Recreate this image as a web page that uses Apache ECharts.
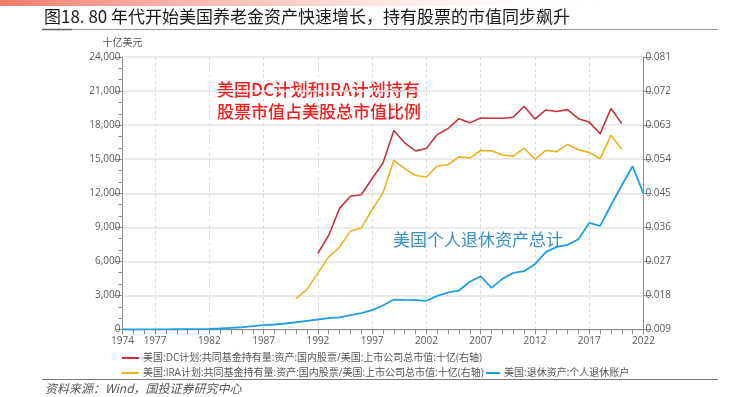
<!DOCTYPE html>
<html lang="zh">
<head>
    <meta charset="UTF-8">
    <script src="https://cdn.jsdelivr.net/npm/echarts@6/dist/echarts.min.js"></script>
    <title>养老金资产</title>
</head>
<body>
    <style>
        html, body, #main {
            margin: 0;
            width: 736px;
            height: 397px;
            background: #fff;
        }
    </style>
    <div id="main"></div>
    <script>
        // years on x axis
        var years = [];
        for (var y = 1974; y <= 2022; y++) years.push(String(y));

        // 美国:退休资产:个人退休账户, 十亿美元, 1974-2022
        var iraAssets = [
            0, 2, 5, 9, 14, 20, 26, 40, 60, 90,
            150, 200, 290, 380, 440, 530, 640, 760, 880, 1000,
            1060, 1260, 1450, 1710, 2110, 2640, 2610, 2590, 2530, 2960,
            3260, 3430, 4200, 4690, 3670, 4460, 4990, 5140, 5750, 6810,
            7280, 7450, 7950, 9390, 9130, 10940, 12700, 14380, 11970
        ];

        // DC计划持股/总市值, 1992-2020
        var dcStart = 1992;
        var dcRatio = [
            0.0291, 0.0339, 0.0410, 0.0442, 0.0446, 0.0489, 0.0530, 0.0616, 0.0583, 0.0562,
            0.0568, 0.0605, 0.0621, 0.0647, 0.0636, 0.0649, 0.0648, 0.0648, 0.0651, 0.0680,
            0.0646, 0.0670, 0.0666, 0.0671, 0.0647, 0.0638, 0.0607, 0.0674, 0.0634
        ];

        // IRA计划持股/总市值, 1990-2020
        var iraStart = 1990;
        var iraRatio = [
            0.0172, 0.0196, 0.0239, 0.0282, 0.0308, 0.0350, 0.0358, 0.0407, 0.0451, 0.0537,
            0.0515, 0.0497, 0.0493, 0.0522, 0.0526, 0.0546, 0.0543, 0.0563, 0.0562, 0.0551,
            0.0548, 0.0569, 0.0540, 0.0563, 0.0560, 0.0579, 0.0565, 0.0558, 0.0541, 0.0603,
            0.0566
        ];

        var nameDC = '美国:DC计划:共同基金持有量:资产:国内股票/美国:上市公司总市值:十亿(右轴)';
        var nameIRA = '美国:IRA计划:共同基金持有量:资产:国内股票/美国:上市公司总市值:十亿(右轴)';
        var nameAssets = '美国:退休资产:个人退休账户';

        function pad(start, arr) {
            return new Array(start - 1974).fill(null).concat(arr);
        }

        var FONT = "'Open Sans', 'Noto Sans CJK SC', sans-serif";
        var labelYear = function (idx, val) {
            return idx === 0 || (Number(val) - 1977) % 5 === 0;
        };
        var gridYear = function (idx, val) {
            return (Number(val) - 1977) % 5 === 0;
        };

        var chart = echarts.init(document.getElementById('main'), null, { renderer: 'canvas' });
        chart.setOption({
            animation: false,
            textStyle: { fontFamily: FONT },
            grid: { left: 122.5, right: 92.5, top: 57, bottom: 67.5 },
            legend: [
                { data: [nameDC], left: 122, top: 353, itemWidth: 17 },
                { data: [nameIRA], left: 122, top: 368, itemWidth: 17 },
                { data: [nameAssets], left: 486, top: 368, itemWidth: 14 }
            ].map(function (l) {
                l.icon = 'rect';
                l.itemHeight = 2;
                l.itemGap = 5;
                l.padding = 0;
                l.textStyle = { fontSize: 10, color: '#555', fontFamily: FONT, padding: [0, 0, 0, -1] };
                return l;
            }),
            xAxis: {
                type: 'category',
                data: years,
                boundaryGap: false,
                axisLine: { lineStyle: { color: '#8c8c8c' } },
                axisTick: { interval: 0, length: 5, lineStyle: { color: '#8c8c8c' } },
                axisLabel: { interval: labelYear, color: '#595959', fontSize: 10, margin: 7, showMaxLabel: true },
                splitLine: { show: true, interval: gridYear, lineStyle: { color: '#d9d9d9', type: [3, 3] } }
            },
            yAxis: [
                {
                    type: 'value',
                    min: 0, max: 24000, interval: 3000,
                    name: '十亿美元',
                    nameGap: 9,
                    nameTextStyle: { color: '#595959', fontSize: 10, align: 'center' },
                    axisLine: { show: true, lineStyle: { color: '#8c8c8c' } },
                    axisTick: { show: true, length: 8, lineStyle: { color: '#8c8c8c' } },
                    minorTick: { show: true, splitNumber: 3, length: 4, lineStyle: { color: '#8c8c8c' } },
                    axisLabel: {
                        color: '#595959', fontSize: 10, margin: 2,
                        formatter: function (v) { return v.toLocaleString('en-US'); }
                    },
                    splitLine: { lineStyle: { color: '#e3e3e3', width: 1.5 } }
                },
                {
                    type: 'value',
                    min: 0.009, max: 0.081, interval: 0.009,
                    axisLine: { show: true, lineStyle: { color: '#8c8c8c' } },
                    axisTick: { show: true, length: 8, lineStyle: { color: '#8c8c8c' } },
                    axisLabel: {
                        color: '#595959', fontSize: 10, margin: 2,
                        formatter: function (v) { return v.toFixed(3); }
                    },
                    splitLine: { show: false }
                }
            ],
            series: [
                {
                    name: nameDC, type: 'line', yAxisIndex: 1,
                    data: pad(dcStart, dcRatio),
                    showSymbol: false, symbol: 'none',
                    lineStyle: { color: '#c1353b', width: 1.6 },
                    itemStyle: { color: '#c1353b' }
                },
                {
                    name: nameIRA, type: 'line', yAxisIndex: 1,
                    data: pad(iraStart, iraRatio),
                    showSymbol: false, symbol: 'none',
                    lineStyle: { color: '#ebb21e', width: 1.6 },
                    itemStyle: { color: '#ebb21e' }
                },
                {
                    name: nameAssets, type: 'line', yAxisIndex: 0,
                    data: iraAssets,
                    showSymbol: false, symbol: 'none',
                    lineStyle: { color: '#1f9fe0', width: 1.8 },
                    itemStyle: { color: '#1f9fe0' }
                }
            ],
            graphic: [
                {
                    type: 'rect', left: 0, top: 0, silent: true,
                    shape: { width: 600, height: 6 },
                    style: {
                        fill: new echarts.graphic.LinearGradient(0, 0, 1, 0, [
                            { offset: 0, color: 'rgba(236,110,90,0.9)' },
                            { offset: 0.5, color: 'rgba(244,170,160,0.55)' },
                            { offset: 1, color: 'rgba(255,255,255,0)' }
                        ])
                    }
                },
                {
                    type: 'text', left: 44, top: 8,
                    style: {
                        text: '图18. 80 年代开始美国养老金资产快速增长，持有股票的市值同步飙升',
                        font: "17px 'Noto Sans CJK SC', sans-serif", fill: '#1a1a1a'
                    }
                },
                {
                    type: 'line', silent: true,
                    shape: { x1: 42, y1: 29.5, x2: 718, y2: 29.5 },
                    style: { stroke: '#9a9a9a', lineWidth: 1.2 }
                },
                {
                    type: 'line', silent: true,
                    shape: { x1: 42, y1: 29.5, x2: 72, y2: 29.5 },
                    style: { stroke: '#666', lineWidth: 1.6 }
                },
                {
                    type: 'text', left: 217, top: 79,
                    style: {
                        text: '美国DC计划和IRA计划持有\n股票市值占美股总市值比例',
                        font: "500 17px 'Noto Sans CJK SC', sans-serif", fill: '#f21c1c',
                        lineHeight: 22
                    }
                },
                {
                    type: 'text', left: 393, top: 231,
                    style: {
                        text: '美国个人退休资产总计',
                        font: "17px 'Noto Sans CJK SC', sans-serif", fill: '#3a8fbd'
                    }
                },
                {
                    type: 'line', silent: true,
                    shape: { x1: 42, y1: 379.5, x2: 718, y2: 379.5 },
                    style: { stroke: '#777', lineWidth: 1.2 }
                },
                {
                    type: 'text', left: 45, top: 382,
                    style: {
                        text: '资料来源：Wind，国投证券研究中心',
                        font: "italic 12px 'Noto Sans CJK SC', sans-serif", fill: '#555'
                    }
                }
            ]
        });
    </script>
</body>
</html>
